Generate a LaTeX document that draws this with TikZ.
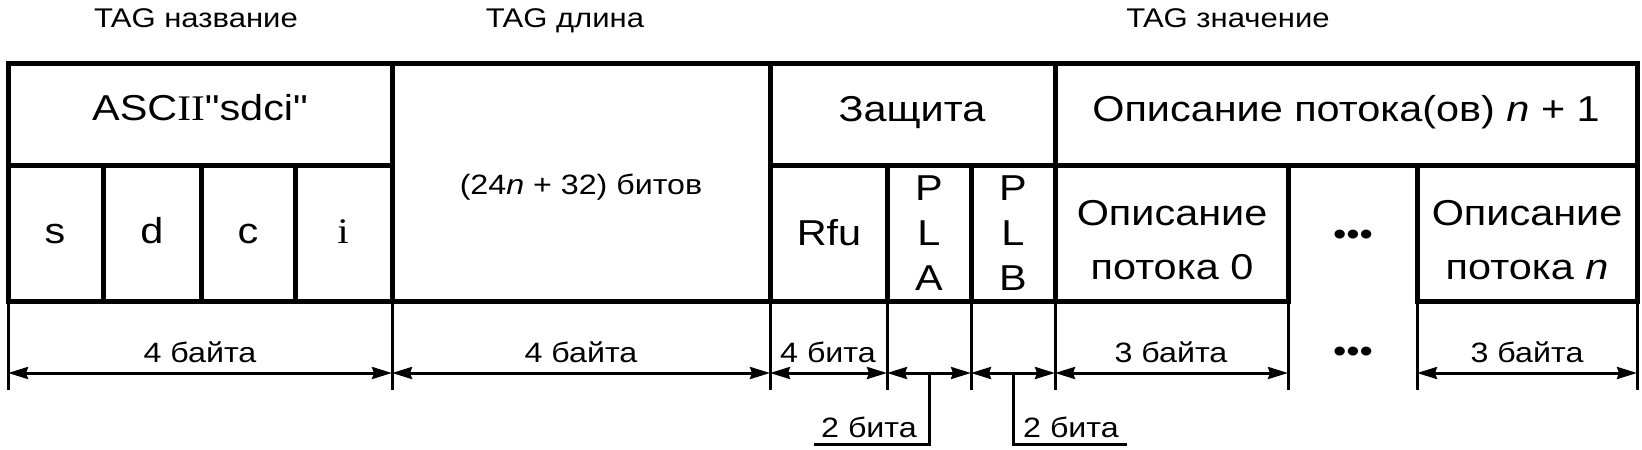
\documentclass[tikz,border=0pt]{standalone}
\usepackage{fontspec}
\setmainfont{Liberation Sans}[FakeStretch=1.15]
\newfontfamily\plainsans{Liberation Sans}[FakeStretch=1.15]
\newfontfamily\serifrm{Liberation Serif}[FakeStretch=1.15]
\usetikzlibrary{arrows.meta}

\tikzset{
    frame/.style={line width=5pt, line cap=rect},
    thinline/.style={line width=3pt},
    dim/.style={thinline, {Stealth[length=20pt,width=12pt,inset=2pt]}-{Stealth[length=20pt,width=12pt,inset=2pt]}},
    title/.style={font=\fontsize{27}{32}\selectfont, inner sep=0pt},
    big/.style={font=\fontsize{36}{45}\selectfont, inner sep=0pt, align=center},
    small/.style={font=\fontsize{28}{32}\selectfont, inner sep=0pt},
    dots/.style={font=\fontsize{33}{36}\selectfont, inner sep=0pt, anchor=base},
}

\begin{document}
\begin{tikzpicture}[x=1pt, y=-1pt]
    \useasboundingbox (0,0) rectangle (1642,450);

    % Titles above the fields
    \node[title, anchor=base] (tname) at (196,27) {TAG название};
    \node[title, anchor=base] (tlen) at (565,27) {TAG длина};
    \node[title, anchor=base] (tval) at (1228,27) {TAG значение};

    % Frame of the fields
    \draw[frame] (8,63) -- (1637,63);
    \draw[frame] (8,165) -- (392,165) (770,165) -- (1637,165);
    \draw[frame] (8,301) -- (1288,301) (1417,301) -- (1637,301);
    \foreach \x in {8,392,770,1055,1637}
        \draw[frame] (\x,63) -- (\x,301);
    \foreach \x in {103,201,295,887,971,1288,1417}
        \draw[frame] (\x,165) -- (\x,301);

    % Upper row
    \node[big, anchor=base] (ascii) at (200,120) {ASC{\serifrm II}{\plainsans "}sdci{\plainsans "}};
    \node[small, anchor=base] (len) at (581,194) {(24\textit{n} + 32) битов};
    \node[big, anchor=base] (prot) at (912,121) {Защита};
    \node[big, anchor=base] (descall) at (1346,121) {Описание потока(ов) \textit{n} + 1};

    % Lower row
    \node[big, anchor=base] (ls) at (55,243) {s};
    \node[big, anchor=base] (ld) at (152,243) {d};
    \node[big, anchor=base] (lc) at (248,243) {c};
    \node[big, anchor=base] (li) at (343,243) {\serifrm i};
    \node[big, anchor=base] (rfu) at (829,245) {Rfu};
    \node[big, font=\fontsize{36}{45}\selectfont] (pla) at (929,233) {P\\L\\A};
    \node[big, font=\fontsize{36}{45}\selectfont] (plb) at (1013,233) {P\\L\\B};
    \node[big, font=\fontsize{36}{54}\selectfont] (desc0) at (1172,240) {Описание\\потока 0};
    \node[dots] (dotsa) at (1353,245.5) {•••};
    \node[big, font=\fontsize{36}{54}\selectfont] (descn) at (1527,240) {Описание\\потока \textit{n}};

    % Ticks and dimension lines
    \foreach \x in {8,392,770,887,971,1055,1288,1417,1637}
        \draw[thinline] (\x,301) -- (\x,390);
    \foreach \x/\n in {8/d0,392/d1,770/d2,887/d3,971/d4,1055/d5,1288/d6,1417/d7,1637/d8}
        \coordinate (\n) at (\x,373);
    \draw[dim] (d0) -- (d1);
    \draw[dim] (d1) -- (d2);
    \draw[dim] (d2) -- (d3);
    \draw[dim] (d3) -- (d4);
    \draw[dim] (d4) -- (d5);
    \draw[dim] (d5) -- (d6);
    \draw[dim] (d7) -- (d8);

    \node[small, anchor=base] (w0) at (200,362) {4 байта};
    \node[small, anchor=base] (w1) at (581,362) {4 байта};
    \node[small, anchor=base] (w2) at (828,362) {4 бита};
    \node[small, anchor=base] (w5) at (1171,362) {3 байта};
    \node[dots] (dotsb) at (1353,362.5) {•••};
    \node[small, anchor=base] (w7) at (1527,362) {3 байта};

    % Leaders for the two-bit fields
    \coordinate (la) at (929,373);
    \coordinate (ua) at (814,444);
    \coordinate (lb) at (1013,373);
    \coordinate (ub) at (1127,444);
    \draw[thinline] (la) |- (ua);
    \draw[thinline] (lb) |- (ub);
    \node[small, anchor=base] (w3) at (869,437) {2 бита};
    \node[small, anchor=base] (w4) at (1071,437) {2 бита};
\end{tikzpicture}
\end{document}
